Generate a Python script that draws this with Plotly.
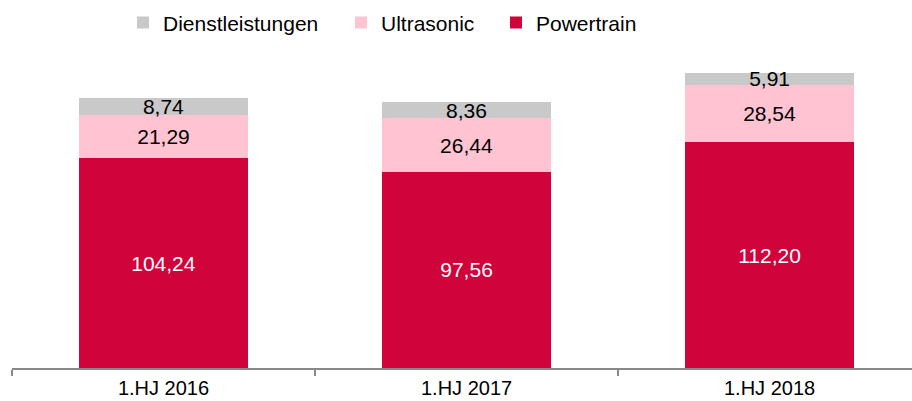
import plotly.graph_objects as go

categories = ["1.HJ 2016", "1.HJ 2017", "1.HJ 2018"]
powertrain = [104.24, 97.56, 112.20]
ultrasonic = [21.29, 26.44, 28.54]
dienstleistungen = [8.74, 8.36, 5.91]

def fmt(v):
    return f"{v:.2f}".replace(".", ",")

FONT = "Liberation Sans, Arial, Helvetica, sans-serif"

fig = go.Figure()
series = [
    ("Powertrain", powertrain, "#D0033A", "white", "legend3"),
    ("Ultrasonic", ultrasonic, "#FFC3D2", "black", "legend2"),
    ("Dienstleistungen", dienstleistungen, "#C9C9C9", "black", "legend"),
]
for name, vals, color, tcol, leg in series:
    fig.add_trace(go.Bar(
        name=name, x=categories, y=vals, legend=leg,
        marker=dict(color=color, line=dict(width=0)),
        text=[fmt(v) for v in vals], textposition="inside",
        insidetextanchor="middle", constraintext="none",
        textfont=dict(color=tcol, size=21, family=FONT),
        width=0.555, hoverinfo="skip",
    ))

def leg(xpx):
    return dict(
        orientation="h", xref="container", yref="container",
        x=xpx / 912, xanchor="left", y=0.943, yanchor="middle",
        font=dict(size=21, family=FONT, color="black"), itemwidth=30,
        bgcolor="rgba(0,0,0,0)",
    )

fig.update_layout(
    barmode="stack",
    width=912, height=401,
    margin=dict(l=12, r=0, t=50, b=33),
    paper_bgcolor="white", plot_bgcolor="white",
    font=dict(family=FONT, size=20, color="black"),
    showlegend=True,
    legend=leg(123), legend2=leg(341), legend3=leg(496),
    xaxis=dict(
        range=[-0.5, 2.47], showgrid=False, showline=True,
        linecolor="#888888", linewidth=1.5,
        ticks="outside", tickson="boundaries", ticklen=6,
        tickcolor="#888888", tickwidth=1.5,
        tickfont=dict(size=20, family=FONT),
        ticklabelstandoff=1, automargin=False,
    ),
    yaxis=dict(range=[0, 158], visible=False, showgrid=False, automargin=False),
)

fig.write_html("out.html", config={"displayModeBar": False},
               post_script="document.body.style.margin='0';")
